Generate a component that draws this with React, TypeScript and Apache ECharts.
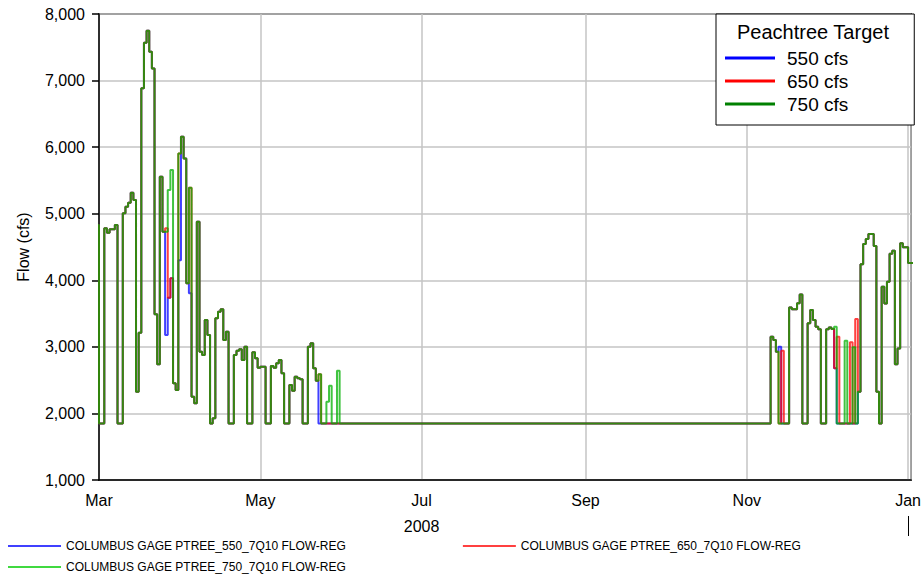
import React, { useEffect, useRef } from "react";
import * as echarts from "echarts";

const FONT = "'Liberation Sans', Arial, Helvetica, sans-serif";

const seriesNames = [
  "COLUMBUS GAGE PTREE_550_7Q10 FLOW-REG",
  "COLUMBUS GAGE PTREE_650_7Q10 FLOW-REG",
  "COLUMBUS GAGE PTREE_750_7Q10 FLOW-REG",
];
const targetLabels = ["550 cfs", "650 cfs", "750 cfs"];
const legendTitle = "Peachtree Target";
const yAxisTitle = "Flow (cfs)";
const yearLabel = "2008";
const monthNames = ["Jan", "Feb", "Mar", "Apr", "May", "Jun", "Jul", "Aug", "Sep", "Oct", "Nov", "Dec"];
const seriesColors = ["#0000ff", "#ff0000", "#00b000"];
const legendColors = ["#0000ff", "#ff0000", "#008000"];
const bottomLegendColors = ["#0000ff", "#ff0000", "#00cc00"];

// Step values: [first day of the step, flow in cfs]
const flow750: [string, number][] = [
  ["2008-02-29", 4830], ["2008-03-01", 1850], ["2008-03-03", 4781], ["2008-03-04", 4714],
  ["2008-03-05", 4765], ["2008-03-07", 4830], ["2008-03-08", 1850], ["2008-03-10", 5006],
  ["2008-03-11", 5105], ["2008-03-12", 5165], ["2008-03-13", 5315], ["2008-03-14", 5205],
  ["2008-03-15", 2326], ["2008-03-16", 3213], ["2008-03-17", 6883], ["2008-03-18", 7568],
  ["2008-03-19", 7749], ["2008-03-20", 7433], ["2008-03-21", 7183], ["2008-03-22", 3489],
  ["2008-03-23", 2738], ["2008-03-24", 5556], ["2008-03-25", 4730], ["2008-03-27", 5356],
  ["2008-03-28", 5656], ["2008-03-29", 2452], ["2008-03-30", 2352], ["2008-03-31", 5906],
  ["2008-04-01", 6156], ["2008-04-02", 5831], ["2008-04-03", 3955], ["2008-04-04", 5391],
  ["2008-04-05", 2252], ["2008-04-06", 2152], ["2008-04-07", 4881], ["2008-04-08", 2927],
  ["2008-04-09", 2878], ["2008-04-10", 3403], ["2008-04-11", 3178], ["2008-04-12", 1850],
  ["2008-04-13", 1926], ["2008-04-14", 3429], ["2008-04-15", 3528], ["2008-04-16", 3564],
  ["2008-04-17", 3103], ["2008-04-18", 3228], ["2008-04-19", 1850], ["2008-04-21", 2878],
  ["2008-04-22", 2940], ["2008-04-23", 2963], ["2008-04-24", 2803], ["2008-04-25", 3003],
  ["2008-04-26", 1850], ["2008-04-28", 2918], ["2008-04-29", 2828], ["2008-04-30", 2687],
  ["2008-05-01", 2700], ["2008-05-03", 1850], ["2008-05-05", 2712], ["2008-05-06", 2687],
  ["2008-05-07", 2752], ["2008-05-08", 2803], ["2008-05-09", 2602], ["2008-05-10", 1850],
  ["2008-05-12", 2427], ["2008-05-13", 2341], ["2008-05-14", 2552], ["2008-05-15", 2527],
  ["2008-05-16", 2512], ["2008-05-17", 1850], ["2008-05-19", 3003], ["2008-05-20", 3053],
  ["2008-05-21", 2677], ["2008-05-22", 2492], ["2008-05-23", 2587], ["2008-05-24", 1850],
  ["2008-05-26", 2176], ["2008-05-27", 2417], ["2008-05-28", 1850], ["2008-05-30", 2642],
  ["2008-05-31", 1850],
  ["2008-11-10", 3153], ["2008-11-11", 3103], ["2008-11-12", 2927], ["2008-11-13", 1850],
  ["2008-11-17", 3590], ["2008-11-18", 3565], ["2008-11-20", 3655], ["2008-11-21", 3785],
  ["2008-11-22", 1850], ["2008-11-24", 3353], ["2008-11-25", 3553], ["2008-11-26", 3403],
  ["2008-11-27", 3303], ["2008-11-28", 3263], ["2008-11-29", 1850], ["2008-12-01", 3263],
  ["2008-12-02", 3290], ["2008-12-03", 3270], ["2008-12-04", 3303], ["2008-12-05", 1850],
  ["2008-12-08", 3093], ["2008-12-09", 1850], ["2008-12-11", 2993], ["2008-12-12", 1850],
  ["2008-12-13", 2326], ["2008-12-14", 4240], ["2008-12-15", 4545], ["2008-12-16", 4620],
  ["2008-12-17", 4695], ["2008-12-19", 4515], ["2008-12-20", 2327], ["2008-12-21", 1850],
  ["2008-12-22", 3903], ["2008-12-23", 3653], ["2008-12-24", 3979], ["2008-12-25", 4400],
  ["2008-12-26", 4445], ["2008-12-27", 2737], ["2008-12-28", 2977], ["2008-12-29", 4555],
  ["2008-12-30", 4495], ["2009-01-01", 4259], ["2009-01-03", 4259],
];

const flow650: [string, number][] = [
  ["2008-02-29", 4830], ["2008-03-01", 1850], ["2008-03-03", 4781], ["2008-03-04", 4714],
  ["2008-03-05", 4765], ["2008-03-07", 4830], ["2008-03-08", 1850], ["2008-03-10", 5006],
  ["2008-03-11", 5105], ["2008-03-12", 5165], ["2008-03-13", 5315], ["2008-03-14", 5205],
  ["2008-03-15", 2326], ["2008-03-16", 3213], ["2008-03-17", 6883], ["2008-03-18", 7568],
  ["2008-03-19", 7749], ["2008-03-20", 7433], ["2008-03-21", 7183], ["2008-03-22", 3489],
  ["2008-03-23", 2738], ["2008-03-24", 5556], ["2008-03-25", 4730], ["2008-03-26", 4780],
  ["2008-03-27", 3738], ["2008-03-28", 4030], ["2008-03-29", 2452], ["2008-03-30", 2352],
  ["2008-03-31", 5906], ["2008-04-01", 6156], ["2008-04-02", 5831], ["2008-04-03", 3955],
  ["2008-04-04", 5391], ["2008-04-05", 2252], ["2008-04-06", 2152], ["2008-04-07", 4881],
  ["2008-04-08", 2927], ["2008-04-09", 2878], ["2008-04-10", 3403], ["2008-04-11", 3178],
  ["2008-04-12", 1850], ["2008-04-13", 1926], ["2008-04-14", 3429], ["2008-04-15", 3528],
  ["2008-04-16", 3564], ["2008-04-17", 3103], ["2008-04-18", 3228], ["2008-04-19", 1850],
  ["2008-04-21", 2878], ["2008-04-22", 2940], ["2008-04-23", 2963], ["2008-04-24", 2803],
  ["2008-04-25", 3003], ["2008-04-26", 1850], ["2008-04-28", 2918], ["2008-04-29", 2828],
  ["2008-04-30", 2687], ["2008-05-01", 2700], ["2008-05-03", 1850], ["2008-05-05", 2712],
  ["2008-05-06", 2687], ["2008-05-07", 2752], ["2008-05-08", 2803], ["2008-05-09", 2602],
  ["2008-05-10", 1850], ["2008-05-12", 2427], ["2008-05-13", 2341], ["2008-05-14", 2552],
  ["2008-05-15", 2527], ["2008-05-16", 2512], ["2008-05-17", 1850], ["2008-05-19", 3003],
  ["2008-05-20", 3053], ["2008-05-21", 2677], ["2008-05-22", 2492], ["2008-05-23", 2587],
  ["2008-05-24", 1850],
  ["2008-11-10", 3153], ["2008-11-11", 3103], ["2008-11-12", 2927], ["2008-11-13", 1850],
  ["2008-11-14", 2943], ["2008-11-15", 1850],
  ["2008-11-17", 3590], ["2008-11-18", 3565], ["2008-11-20", 3655], ["2008-11-21", 3785],
  ["2008-11-22", 1850], ["2008-11-24", 3353], ["2008-11-25", 3553], ["2008-11-26", 3403],
  ["2008-11-27", 3303], ["2008-11-28", 3263], ["2008-11-29", 1850], ["2008-12-01", 3263],
  ["2008-12-02", 3290], ["2008-12-03", 3270], ["2008-12-04", 2680], ["2008-12-05", 3150],
  ["2008-12-06", 1850], ["2008-12-10", 3068], ["2008-12-11", 1850], ["2008-12-12", 3418],
  ["2008-12-13", 2326], ["2008-12-14", 4240], ["2008-12-15", 4545], ["2008-12-16", 4620],
  ["2008-12-17", 4695], ["2008-12-19", 4515], ["2008-12-20", 2327], ["2008-12-21", 1850],
  ["2008-12-22", 3903], ["2008-12-23", 3653], ["2008-12-24", 3979], ["2008-12-25", 4400],
  ["2008-12-26", 4445], ["2008-12-27", 2737], ["2008-12-28", 2977], ["2008-12-29", 4555],
  ["2008-12-30", 4495], ["2009-01-01", 4259], ["2009-01-03", 4259],
];

const flow550: [string, number][] = [
  ["2008-02-29", 4830], ["2008-03-01", 1850], ["2008-03-03", 4781], ["2008-03-04", 4714],
  ["2008-03-05", 4765], ["2008-03-07", 4830], ["2008-03-08", 1850], ["2008-03-10", 5006],
  ["2008-03-11", 5105], ["2008-03-12", 5165], ["2008-03-13", 5315], ["2008-03-14", 5205],
  ["2008-03-15", 2326], ["2008-03-16", 3213], ["2008-03-17", 6883], ["2008-03-18", 7568],
  ["2008-03-19", 7749], ["2008-03-20", 7433], ["2008-03-21", 7183], ["2008-03-22", 3489],
  ["2008-03-23", 2738], ["2008-03-24", 5556], ["2008-03-25", 4730], ["2008-03-26", 3178],
  ["2008-03-27", 3738], ["2008-03-28", 4030], ["2008-03-29", 2452], ["2008-03-30", 2352],
  ["2008-03-31", 4300], ["2008-04-01", 6156], ["2008-04-02", 5831], ["2008-04-03", 3955],
  ["2008-04-04", 3804], ["2008-04-05", 2252], ["2008-04-06", 2152], ["2008-04-07", 4881],
  ["2008-04-08", 2927], ["2008-04-09", 2878], ["2008-04-10", 3403], ["2008-04-11", 3178],
  ["2008-04-12", 1850], ["2008-04-13", 1926], ["2008-04-14", 3429], ["2008-04-15", 3528],
  ["2008-04-16", 3564], ["2008-04-17", 3103], ["2008-04-18", 3228], ["2008-04-19", 1850],
  ["2008-04-21", 2878], ["2008-04-22", 2940], ["2008-04-23", 2963], ["2008-04-24", 2803],
  ["2008-04-25", 3003], ["2008-04-26", 1850], ["2008-04-28", 2918], ["2008-04-29", 2828],
  ["2008-04-30", 2687], ["2008-05-01", 2700], ["2008-05-03", 1850], ["2008-05-05", 2712],
  ["2008-05-06", 2687], ["2008-05-07", 2752], ["2008-05-08", 2803], ["2008-05-09", 2602],
  ["2008-05-10", 1850], ["2008-05-12", 2427], ["2008-05-13", 2341], ["2008-05-14", 2552],
  ["2008-05-15", 2527], ["2008-05-16", 2512], ["2008-05-17", 1850], ["2008-05-19", 3003],
  ["2008-05-20", 3053], ["2008-05-21", 2677], ["2008-05-22", 2492], ["2008-05-23", 1850],
  ["2008-11-10", 3153], ["2008-11-11", 3103], ["2008-11-12", 2927], ["2008-11-13", 3003],
  ["2008-11-14", 1850],
  ["2008-11-17", 3590], ["2008-11-18", 3565], ["2008-11-20", 3655], ["2008-11-21", 3785],
  ["2008-11-22", 1850], ["2008-11-24", 3353], ["2008-11-25", 3553], ["2008-11-26", 3403],
  ["2008-11-27", 3303], ["2008-11-28", 3263], ["2008-11-29", 1850], ["2008-12-01", 3263],
  ["2008-12-02", 3290], ["2008-12-03", 3270], ["2008-12-04", 2680], ["2008-12-05", 1850],
  ["2008-12-13", 2326], ["2008-12-14", 4240], ["2008-12-15", 4545], ["2008-12-16", 4620],
  ["2008-12-17", 4695], ["2008-12-19", 4515], ["2008-12-20", 2327], ["2008-12-21", 1850],
  ["2008-12-22", 3903], ["2008-12-23", 3653], ["2008-12-24", 3979], ["2008-12-25", 4400],
  ["2008-12-26", 4445], ["2008-12-27", 2737], ["2008-12-28", 2977], ["2008-12-29", 4555],
  ["2008-12-30", 4495], ["2009-01-01", 4259], ["2009-01-03", 4259],
];

const flows = [flow550, flow650, flow750];

export default function App() {
  const ref = useRef<HTMLDivElement>(null);

  useEffect(() => {
    if (!ref.current) return;
    const chart = echarts.init(ref.current, null, { renderer: "svg" });
    const xMin = new Date(2008, 2, 1).getTime();
    const xMax = new Date(2009, 0, 2, 3).getTime();

    const option: any = {
      animation: false,
      backgroundColor: "#ffffff",
      textStyle: { fontFamily: FONT, color: "#000" },
      title: {
        text: legendTitle,
        left: 737,
        top: 22,
        padding: 0,
        z: 10,
        textStyle: { fontFamily: FONT, fontSize: 20, fontWeight: "normal", color: "#000" },
      },
      grid: {
        left: 99,
        right: 12,
        top: 14,
        bottom: 97,
        show: true,
        borderColor: "#000",
        borderWidth: 1.5,
        containLabel: false,
      },
      legend: [
        {
          data: seriesNames.map((n, i) => ({
            name: n,
            icon: "rect",
            itemStyle: { color: legendColors[i], opacity: 1 },
          })),
          orient: "vertical",
          left: 716,
          top: 14,
          padding: [34, 66, 11, 9],
          itemWidth: 50,
          itemHeight: 3,
          itemGap: 3,
          backgroundColor: "#ffffff",
          borderColor: "#000",
          borderWidth: 1,
          selectedMode: false,
          z: 8,
          formatter: (name: string) => targetLabels[seriesNames.indexOf(name)],
          textStyle: { fontFamily: FONT, fontSize: 19, color: "#000", lineHeight: 20, padding: [0, 0, 0, 7] },
        },
        {
          data: seriesNames.slice(0, 2).map((n, i) => ({
            name: n,
            icon: "rect",
            itemStyle: { color: bottomLegendColors[i], opacity: 1 },
          })),
          orient: "horizontal",
          left: 8,
          top: 539,
          padding: 0,
          itemWidth: 53,
          itemHeight: 1.5,
          itemGap: 117,
          selectedMode: false,
          textStyle: { fontFamily: FONT, fontSize: 12, color: "#000", lineHeight: 14 },
        },
        {
          data: seriesNames.slice(2).map((n) => ({
            name: n,
            icon: "rect",
            itemStyle: { color: bottomLegendColors[2], opacity: 1 },
          })),
          orient: "horizontal",
          left: 8,
          top: 560,
          padding: 0,
          itemWidth: 53,
          itemHeight: 1.5,
          selectedMode: false,
          textStyle: { fontFamily: FONT, fontSize: 12, color: "#000", lineHeight: 14 },
        },
      ],
      xAxis: [
        {
          type: "time",
          min: xMin,
          max: xMax,
          splitNumber: 4,
          axisLine: { show: true, lineStyle: { color: "#000", width: 1.5 } },
          axisTick: { show: false },
          axisLabel: {
            show: true,
            margin: 12,
            fontFamily: FONT,
            fontSize: 16,
            color: "#000",
            hideOverlap: false,
            formatter: (v: number) => monthNames[new Date(v).getMonth()],
          },
          splitLine: { show: true, lineStyle: { color: "#c4c4c4", width: 1.5 } },
        },
        {
          type: "value",
          min: xMin,
          max: xMax,
          position: "bottom",
          offset: 36,
          axisLine: { show: false },
          axisTick: {
            show: true,
            length: 20,
            customValues: [new Date(2009, 0, 1).getTime()],
            lineStyle: { color: "#000", width: 1 },
          },
          axisLabel: {
            show: true,
            margin: 2,
            fontFamily: FONT,
            fontSize: 16,
            color: "#000",
            showMinLabel: false,
            showMaxLabel: false,
            customValues: [new Date(2008, 6, 1).getTime()],
            formatter: () => yearLabel,
          },
          splitLine: { show: false },
        },
      ],
      yAxis: {
        type: "value",
        min: 1000,
        max: 8000,
        interval: 1000,
        name: yAxisTitle,
        nameLocation: "middle",
        nameGap: 68,
        nameRotate: 90,
        nameTextStyle: { fontFamily: FONT, fontSize: 16, color: "#000" },
        axisLine: { show: true, lineStyle: { color: "#000", width: 1.5 } },
        axisTick: { show: true, length: 7, lineStyle: { color: "#000", width: 1.5 } },
        axisLabel: {
          margin: 14,
          fontFamily: FONT,
          fontSize: 16,
          color: "#000",
          formatter: (v: number) => v.toLocaleString("en-US"),
        },
        splitLine: { show: true, lineStyle: { color: "#c4c4c4", width: 1.5 } },
      },
      series: flows.map((steps, i) => ({
        name: seriesNames[i],
        type: "line",
        step: "end",
        xAxisIndex: 0,
        yAxisIndex: 0,
        data: steps.map(([d, v]) => [d, v]),
        showSymbol: false,
        symbol: "none",
        silent: true,
        clip: true,
        z: 2 + i,
        itemStyle: { color: seriesColors[i] },
        lineStyle: { color: seriesColors[i], width: 2, opacity: 0.75 },
        emphasis: { disabled: true },
      })),
    };

    chart.setOption(option);
    return () => chart.dispose();
  }, []);

  return (
    <div
      ref={ref}
      style={{ position: "absolute", left: 0, top: 0, width: 924, height: 577, background: "#fff" }}
    />
  );
}
